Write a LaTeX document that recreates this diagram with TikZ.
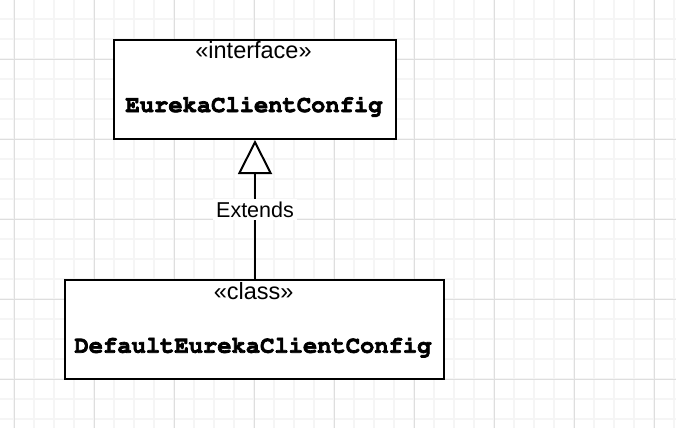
\documentclass[tikz,border=0pt]{standalone}
\usepackage{fontspec}
\setmainfont{Liberation Sans}
\usetikzlibrary{arrows.meta}
\newcommand{\heavy}[1]{\special{pdf:literal 2 Tr 0.7 w}#1\special{pdf:literal 0 Tr}}

\begin{document}
\begin{tikzpicture}[x=1pt, y=-1pt,
        gridminor/.style={color=black!4, line width=2pt},
        gridmajor/.style={color=black!13, line width=1pt},
        umlbox/.style={draw, line width=2pt, minimum width=282pt, minimum height=99pt, inner sep=0pt},
        stereo/.style={anchor=base, font=\fontsize{23.5}{26}\selectfont, inner sep=0pt},
        cname/.style={anchor=base, font=\fontencoding{T1}\fontfamily{pcr}\fontseries{b}\fontsize{23.8}{26}\selectfont, inner sep=0pt},
        extends/.style={line width=2pt, -{Triangle[length=34pt, width=34pt, fill=white]}},
        lbl/.style={fill=white, font=\fontsize{21.5}{24}\selectfont, inner sep=3pt}]
    \useasboundingbox (0,0) rectangle (676,428);
    \fill[white] (0,0) rectangle (676,428);

    % background grid
    \foreach \x in {14,34,...,674} \draw[gridminor] (\x,0) -- (\x,428);
    \foreach \y in {19,39,...,419} \draw[gridminor] (0,\y) -- (676,\y);
    \foreach \x in {14,94,...,654} \draw[gridmajor] (\x,0) -- (\x,428);
    \foreach \y in {59,139,...,379} \draw[gridmajor] (0,\y) -- (676,\y);

    % classes
    \node[umlbox, fill=white] (iface) at (255,89.5) {};
    \node[umlbox, fill=white, minimum width=379pt] (dflt) at (254.5,329.5) {};

    \node[stereo] (ifaceStereo) at (253.5,59) {«interface»};
    \node[cname] (ifaceName) at (254,112) {\heavy{EurekaClientConfig}};
    \node[stereo] (dfltStereo) at (253.7,299) {«class»};
    \node[cname] (dfltName) at (253,352.7) {\heavy{DefaultEurekaClientConfig}};

    % generalization
    \draw[extends] (dflt.north -| iface) -- node[lbl] {Extends} (iface.south);
\end{tikzpicture}
\end{document}
